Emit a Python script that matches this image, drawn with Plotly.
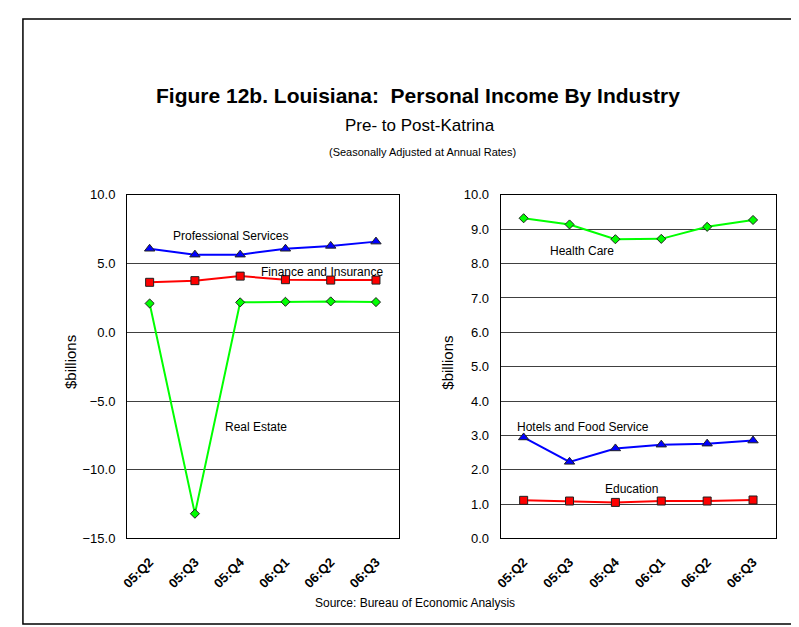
import plotly.graph_objects as go

W, H = 799, 627
FONT = 'Liberation Sans, Arial, sans-serif'

quarters = ['05:Q2', '05:Q3', '05:Q4', '06:Q1', '06:Q2', '06:Q3']

# left panel ($ billions)
professional = [6.08, 5.65, 5.65, 6.08, 6.29, 6.60]
finance = [3.64, 3.76, 4.09, 3.83, 3.80, 3.80]
real_estate = [2.10, -13.20, 2.18, 2.22, 2.25, 2.20]

# right panel ($ billions)
health = [9.32, 9.14, 8.71, 8.72, 9.07, 9.27]
hotels = [2.94, 2.23, 2.62, 2.73, 2.76, 2.85]
education = [1.11, 1.09, 1.05, 1.09, 1.09, 1.12]

left_ticks = [-15, -10, -5, 0, 5, 10]
right_ticks = [0, 1, 2, 3, 4, 5, 6, 7, 8, 9, 10]


def px(x):
    return x / W


def py(y):
    return 1 - y / H


def series(y, color, symbol, size, xa, ya):
    return go.Scatter(
        x=quarters, y=y, xaxis=xa, yaxis=ya, mode='lines+markers',
        line=dict(color=color, width=2),
        marker=dict(symbol=symbol, size=size, color=color,
                    line=dict(color='#202020', width=1)),
        showlegend=False, hoverinfo='x+y')


fig = go.Figure([
    series(professional, '#0000FF', 'triangle-up', 9, 'x', 'y'),
    series(finance, '#FF0000', 'square', 8, 'x', 'y'),
    series(real_estate, '#00FF00', 'diamond', 7, 'x', 'y'),
    series(health, '#00FF00', 'diamond', 7, 'x2', 'y2'),
    series(hotels, '#0000FF', 'triangle-up', 9, 'x2', 'y2'),
    series(education, '#FF0000', 'square', 8, 'x2', 'y2'),
])

xcommon = dict(type='category', range=[-0.5, 5.5], tickangle=-45,
               tickfont=dict(size=13, weight='bold', color='black'),
               showline=True, mirror=True, linecolor='black', linewidth=1,
               showgrid=False, ticks='', ticklabelstandoff=10)
ycommon = dict(showline=True, mirror=True, linecolor='black', linewidth=1,
               showgrid=True, gridcolor='#404040', gridwidth=1,
               zeroline=False, tickformat='.1f', ticks='',
               tickfont=dict(size=13, color='black'), ticklabelstandoff=8)

ydom = [py(536.3), py(184.3)]

fig.update_layout(
    width=W, height=H, margin=dict(l=0, r=0, t=0, b=0),
    paper_bgcolor='white', plot_bgcolor='white',
    font=dict(family=FONT, color='black'),
    xaxis=dict(xcommon, domain=[px(113), px(387)], anchor='y'),
    yaxis=dict(ycommon, domain=ydom, range=[-15, 10], tickvals=left_ticks, anchor='x'),
    xaxis2=dict(xcommon, domain=[px(490), px(767.7)], anchor='y2'),
    yaxis2=dict(ycommon, domain=ydom, range=[0, 10], tickvals=right_ticks, anchor='x2'),
)

texts = [
    ('<b>Figure 12b. Louisiana:  Personal Income By Industry</b>', 407, 82, 21),
    ('Pre- to Post-Katrina', 409, 113, 17),
    ('(Seasonally Adjusted at Annual Rates)', 411, 140, 11),
    ('Source: Bureau of Economic Analysis', 404, 602, 12),
    ('Professional Services', 217, 226, 12),
    ('Finance and Insurance', 310, 263, 12),
    ('Real Estate', 243, 422, 12),
    ('Health Care', 572, 242, 12),
    ('Hotels and Food Service', 573, 422, 12),
    ('Education', 622, 486, 12),
]
for t, x, y, s in texts:
    fig.add_annotation(text=t, x=px(x), y=py(y), xref='paper', yref='paper',
                       xanchor='center', yanchor='middle', showarrow=False,
                       font=dict(size=s, color='black'))

for x in (56, 436):
    fig.add_annotation(text='$billions', x=px(x), y=py(356), xref='paper', yref='paper',
                       textangle=-90, xanchor='center', yanchor='middle',
                       showarrow=False, font=dict(size=15, color='black'))

# outer frame
fig.add_shape(type='rect', xref='paper', yref='paper',
              x0=px(8), x1=px(W + 5), y0=py(624), y1=py(4),
              line=dict(color='black', width=1.5))

fig.write_html('out.html')
